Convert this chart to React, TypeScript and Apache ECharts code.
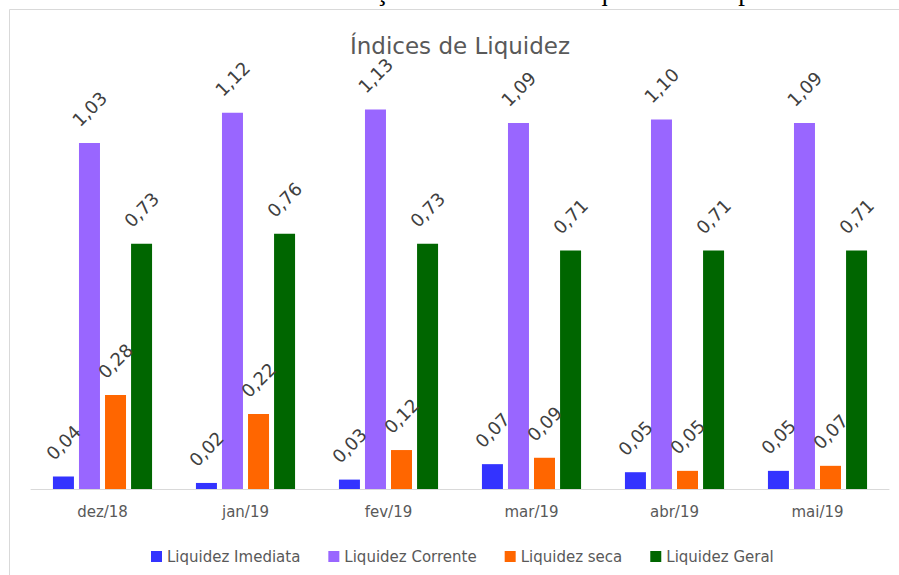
import React, { useEffect, useRef } from "react";
import * as echarts from "echarts";

const categories = ["dez/18", "jan/19", "fev/19", "mar/19", "abr/19", "mai/19"];
const seriesNames = ["Liquidez Imediata", "Liquidez Corrente", "Liquidez seca", "Liquidez Geral"];
const liquidezImediata = [0.037, 0.018, 0.028, 0.074, 0.05, 0.054];
const liquidezCorrente = [1.03, 1.12, 1.13, 1.09, 1.1, 1.09];
const liquidezSeca = [0.28, 0.223, 0.116, 0.093, 0.054, 0.069];
const liquidezGeral = [0.73, 0.76, 0.73, 0.71, 0.71, 0.71];
const seriesColors = ["#3333FF", "#9966FF", "#FF6600", "#006600"];

const FONT = "DejaVu Sans";

export default function App() {
  const ref = useRef<HTMLDivElement>(null);
  useEffect(() => {
    if (!ref.current) return;
    const chart = echarts.init(ref.current, null, { renderer: "svg" });
    const datasets = [liquidezImediata, liquidezCorrente, liquidezSeca, liquidezGeral];
    chart.setOption({
      animation: false,
      backgroundColor: "#FFFFFF",
      graphic: [
        {
          type: "rect",
          shape: { x: 9.5, y: 9.5, width: 1000, height: 700 },
          style: { fill: "none", stroke: "#D9D9D9", lineWidth: 1 },
          silent: true,
        },
        {
          type: "text",
          x: 482,
          y: 4,
          style: {
            text: "Gráfico 11 – Evolução dos índices de liquidez da empresa",
            font: "27px 'Liberation Serif'",
            fill: "#000000",
            align: "center",
            verticalAlign: "bottom",
          },
          silent: true,
        },
        {
          type: "text",
          x: 460,
          y: 46,
          style: {
            text: "Índices de Liquidez",
            font: `23px '${FONT}'`,
            fill: "#595959",
            align: "center",
            verticalAlign: "middle",
          },
          silent: true,
        },
      ],
      legend: {
        left: 151,
        top: 549,
        padding: 0,
        itemWidth: 11,
        itemHeight: 11,
        itemGap: 28,
        icon: "rect",
        textStyle: { fontFamily: FONT, fontSize: 15, color: "#595959" },
        data: seriesNames,
      },
      grid: { left: 31, right: 10, top: 86, bottom: 86, containLabel: false },
      xAxis: {
        type: "category",
        data: categories,
        axisTick: { show: false },
        axisLine: { lineStyle: { color: "#D9D9D9", width: 1 } },
        axisLabel: { color: "#595959", fontFamily: FONT, fontSize: 15, margin: 15 },
      },
      yAxis: {
        type: "value",
        min: 0,
        max: 1.2,
        show: false,
        splitLine: { show: false },
      },
      series: datasets.map((d, i) => ({
        name: seriesNames[i],
        type: "bar",
        data: d,
        barWidth: 21,
        barGap: "24%",
        itemStyle: { color: seriesColors[i] },
        label: {
          show: true,
          position: "top",
          distance: 34,
          rotate: 45,
          align: "center",
          verticalAlign: "middle",
          color: "#404040",
          fontFamily: FONT,
          fontSize: 18,
          formatter: (p: any) => p.value.toFixed(2).replace(".", ","),
        },
      })),
    });
    return () => chart.dispose();
  }, []);
  return (
    <div
      ref={ref}
      style={{ position: "fixed", left: 0, top: 0, width: 899, height: 575 }}
    />
  );
}
